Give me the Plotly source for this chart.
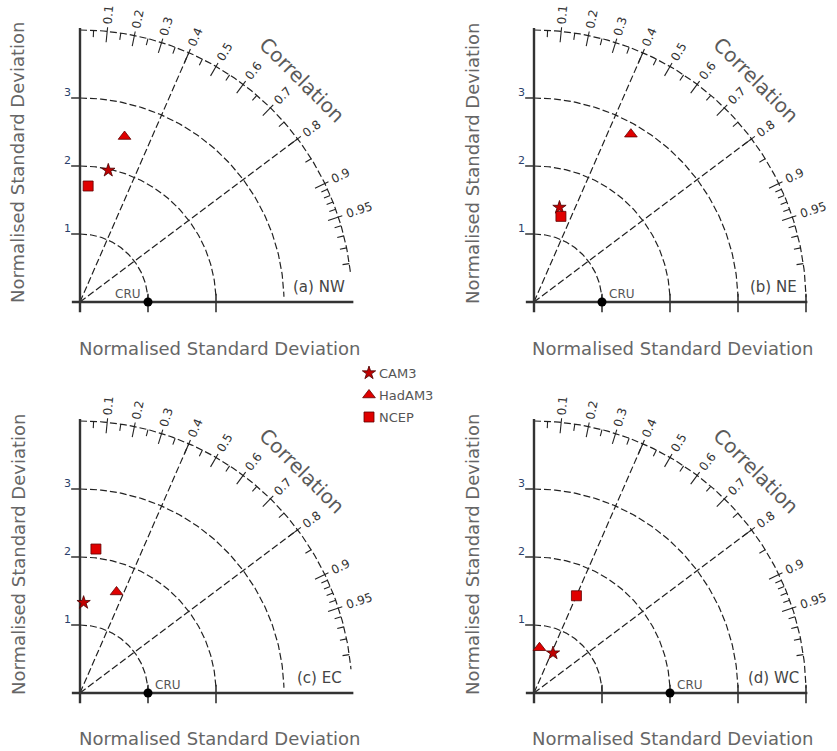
import numpy as np
import plotly.graph_objects as go

# ---------------- data ----------------
panel_labels = ["(a) NW", "(b) NE", "(c) EC", "(d) WC"]
model_names = ["CAM3", "HadAM3", "NCEP"]
# normalised standard deviation of each model, per panel
cam3_std = [1.98, 1.44, 1.33, 0.65]
hadam3_std = [2.52, 2.85, 1.58, 0.67]
ncep_std = [1.71, 1.32, 2.13, 1.56]
# correlation with CRU, per panel
cam3_corr = [0.21, 0.26, 0.04, 0.43]
hadam3_corr = [0.26, 0.50, 0.34, 0.12]
ncep_corr = [0.07, 0.30, 0.11, 0.40]
# reference (CRU) standard deviation per panel
cru_std = [1.0, 1.0, 1.0, 2.0]

std_arcs = [1, 2, 3, 4]
corr_lines = [0.4, 0.8]
corr_major = [0.1, 0.2, 0.3, 0.4, 0.5, 0.6, 0.7, 0.8, 0.9, 0.95]
corr_minor = [0.05, 0.15, 0.25, 0.35, 0.45, 0.55, 0.65, 0.75, 0.85,
              0.91, 0.92, 0.93, 0.94, 0.96, 0.97, 0.98, 0.99]
ytick_vals = [1, 2, 3]
xtick_vals = [[1, 2], [1, 2, 3, 4], [1, 2], [1, 2, 3, 4]]
axis_title = "Normalised Standard Deviation"

# ---------------- layout geometry ----------------
W, H = 837, 751
U = 68.0
origins = [(80, 302), (534, 302), (80, 693), (534, 693)]
XR = [-0.85, 4.4]
YR = [-0.45, 4.4]
outer_end_deg = [6, 1, 5, 1]

fig = go.Figure()
layout_axes = {}

model_std = [cam3_std, hadam3_std, ncep_std]
model_corr = [cam3_corr, hadam3_corr, ncep_corr]
model_sym = ["star", "triangle-up", "square"]
model_fill = ["#c00000", "#e00000", "#e00000"]
model_line = ["#4a0000", "#600000", "#600000"]
model_size = [10, 11, 10]

annotations = []
DASH = "7px,3px"
INK = "#222222"
FONT = "DejaVu Sans"

for p in range(4):
    ox, oy = origins[p]
    xa = "x" if p == 0 else f"x{p+1}"
    ya = "y" if p == 0 else f"y{p+1}"
    xkey = "xaxis" if p == 0 else f"xaxis{p+1}"
    ykey = "yaxis" if p == 0 else f"yaxis{p+1}"
    left = ox + XR[0] * U
    right = ox + XR[1] * U
    top = oy - YR[1] * U
    bottom = oy - YR[0] * U
    layout_axes[xkey] = dict(domain=[left / W, right / W], range=XR, visible=False,
                             fixedrange=True, anchor=ya)
    layout_axes[ykey] = dict(domain=[1 - bottom / H, 1 - top / H], range=YR, visible=False,
                             fixedrange=True, anchor=xa)

    # std dev arcs
    for r in std_arcs:
        end = outer_end_deg[p] if r == 4 else 1.5
        th = np.radians(np.linspace(90, end, 120))
        fig.add_trace(go.Scatter(x=r * np.cos(th), y=r * np.sin(th), mode="lines",
                                 line=dict(color=INK, width=1.2, dash=DASH),
                                 xaxis=xa, yaxis=ya, showlegend=False, hoverinfo="skip"))
    # correlation radial lines
    for c in corr_lines:
        a = np.arccos(c)
        fig.add_trace(go.Scatter(x=[0, 4 * np.cos(a)], y=[0, 4 * np.sin(a)], mode="lines",
                                 line=dict(color=INK, width=1.2, dash=DASH),
                                 xaxis=xa, yaxis=ya, showlegend=False, hoverinfo="skip"))
    # correlation ticks
    tx, ty = [], []
    for c in corr_major:
        a = np.arccos(c)
        tx += [3.84 * np.cos(a), 4.06 * np.cos(a), None]
        ty += [3.84 * np.sin(a), 4.06 * np.sin(a), None]
    for c in corr_minor:
        a = np.arccos(c)
        tx += [3.9 * np.cos(a), 4.0 * np.cos(a), None]
        ty += [3.9 * np.sin(a), 4.0 * np.sin(a), None]
    fig.add_trace(go.Scatter(x=tx, y=ty, mode="lines", line=dict(color=INK, width=1.1),
                             xaxis=xa, yaxis=ya, showlegend=False, hoverinfo="skip"))
    # axes lines
    ax_x = [0, 0, None, -0.12, 4.02]
    ax_y = [-0.15, 4.03, None, 0, 0]
    fig.add_trace(go.Scatter(x=ax_x, y=ax_y, mode="lines", line=dict(color="#333333", width=2.4),
                             xaxis=xa, yaxis=ya, showlegend=False, hoverinfo="skip"))
    kx, ky = [], []
    for v in ytick_vals:
        kx += [-0.13, 0, None]
        ky += [v, v, None]
    for v in xtick_vals[p]:
        kx += [v, v, None]
        ky += [-0.15, 0.12, None]
    fig.add_trace(go.Scatter(x=kx, y=ky, mode="lines", line=dict(color="#333333", width=1.6),
                             xaxis=xa, yaxis=ya, showlegend=False, hoverinfo="skip"))
    # CRU reference
    fig.add_trace(go.Scatter(x=[cru_std[p]], y=[0], mode="markers",
                             marker=dict(color="black", size=9, symbol="circle"),
                             cliponaxis=False, xaxis=xa, yaxis=ya, showlegend=False,
                             hoverinfo="skip"))
    # models
    for m in range(3):
        s = model_std[m][p]
        c = model_corr[m][p]
        a = np.arccos(c)
        fig.add_trace(go.Scatter(x=[s * np.cos(a)], y=[s * np.sin(a)], mode="markers",
                                 name=model_names[m], legendgroup=model_names[m],
                                 showlegend=False,
                                 marker=dict(symbol=model_sym[m], size=model_size[m],
                                             color=model_fill[m],
                                             line=dict(color=model_line[m], width=0.8)),
                                 cliponaxis=False, xaxis=xa, yaxis=ya))

    # correlation labels
    for c in corr_major:
        a = np.arccos(c)
        deg = np.degrees(a)
        rr = 4.25 if c < 0.95 else 4.32
        annotations.append(dict(x=rr * np.cos(a), y=rr * np.sin(a), xref=xa, yref=ya,
                                text=f"{c:g}", showarrow=False, textangle=-deg,
                                xanchor="center", yanchor="middle",
                                font=dict(family=FONT, size=12, color="#333333")))
    annotations.append(dict(x=4.62 * np.cos(np.radians(45)), y=4.62 * np.sin(np.radians(45)),
                            xref=xa, yref=ya, text="Correlation", showarrow=False,
                            textangle=45, xanchor="center", yanchor="middle",
                            font=dict(family=FONT, size=20, color="#5a5a5a")))
    annotations.append(dict(x=3.52, y=0.22, xref=xa, yref=ya, text=panel_labels[p],
                            showarrow=False, xanchor="center", yanchor="middle",
                            font=dict(family=FONT, size=15, color="#444444")))
    cdx = -0.3 if p == 0 else 0.3
    annotations.append(dict(x=cru_std[p] + cdx, y=0.12, xref=xa, yref=ya, text="CRU",
                            showarrow=False, xanchor="center", yanchor="middle",
                            font=dict(family=FONT, size=12, color="#555555")))
    for v in ytick_vals:
        annotations.append(dict(x=-0.19, y=v + 0.08, xref=xa, yref=ya, text=str(v),
                                showarrow=False, xanchor="center", yanchor="middle",
                                font=dict(family=FONT, size=11, color="#2b3f6b")))

# axis titles (pixel positions converted to paper coords)
ytitle_pos = [(18, 163), (472, 164), (18, 555), (472, 555)]
xtitle_pos = [(219, 348), (672, 348), (219, 738), (672, 738)]
for (px, py) in ytitle_pos:
    annotations.append(dict(x=px / W, y=1 - py / H, xref="paper", yref="paper",
                            text=axis_title, showarrow=False, textangle=-90,
                            xanchor="center", yanchor="middle",
                            font=dict(family=FONT, size=18, color="#666666")))
for (px, py) in xtitle_pos:
    annotations.append(dict(x=px / W, y=1 - py / H, xref="paper", yref="paper",
                            text=axis_title, showarrow=False,
                            xanchor="center", yanchor="middle",
                            font=dict(family=FONT, size=18, color="#666666")))

# custom legend in a pixel-space overlay axis
layout_axes["xaxis5"] = dict(domain=[0, 1], range=[0, W], visible=False, fixedrange=True,
                             anchor="y5")
layout_axes["yaxis5"] = dict(domain=[0, 1], range=[H, 0], visible=False, fixedrange=True,
                             anchor="x5")
leg_x = 369
leg_y = [373, 395, 417]
for m in range(3):
    fig.add_trace(go.Scatter(x=[leg_x], y=[leg_y[m]], mode="markers", name=model_names[m],
                             showlegend=False, hoverinfo="skip",
                             marker=dict(symbol=model_sym[m], size=model_size[m],
                                         color=model_fill[m],
                                         line=dict(color=model_line[m], width=0.8)),
                             cliponaxis=False, xaxis="x5", yaxis="y5"))
    annotations.append(dict(x=leg_x + 8, y=leg_y[m], xref="x5", yref="y5",
                            text=model_names[m], showarrow=False,
                            xanchor="left", yanchor="middle",
                            font=dict(family=FONT, size=13, color="#555555")))

fig.update_layout(
    width=W, height=H,
    margin=dict(l=0, r=0, t=0, b=0),
    paper_bgcolor="white", plot_bgcolor="rgba(0,0,0,0)",
    showlegend=False,
    annotations=annotations,
    **layout_axes,
)

fig.write_html("out.html", config={"displayModeBar": False},
               post_script="document.body.style.margin='0';document.body.style.padding='0';")
